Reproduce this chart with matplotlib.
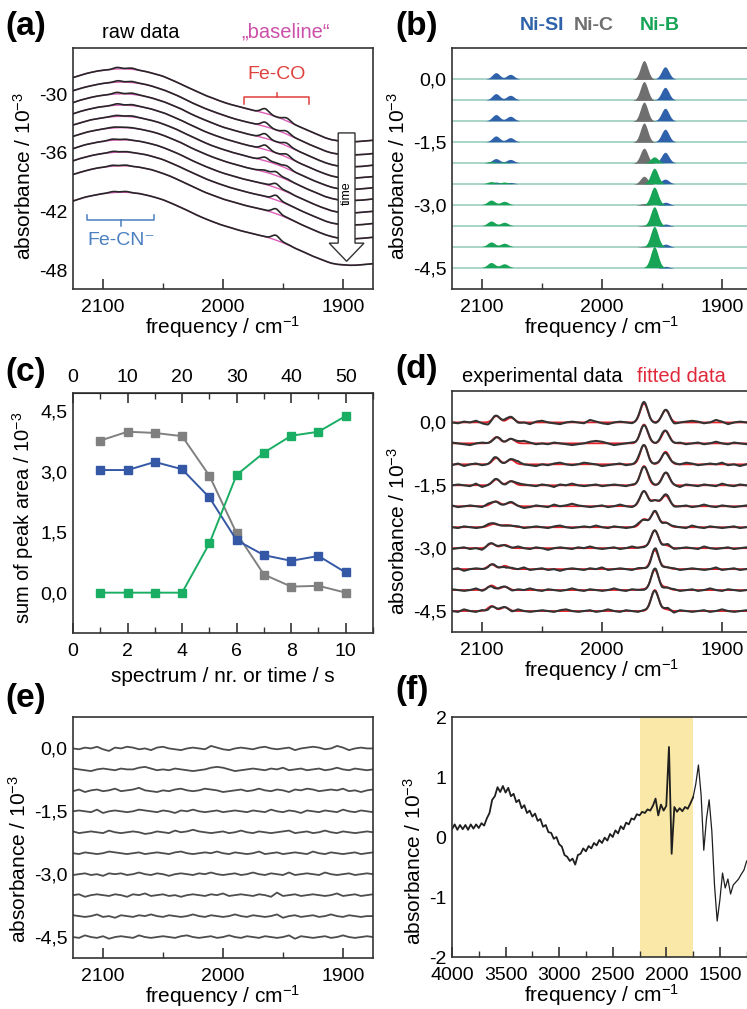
import numpy as np
import matplotlib
matplotlib.use("Agg")
import matplotlib.pyplot as plt
from matplotlib.patches import FancyArrow
from matplotlib.ticker import FuncFormatter, MultipleLocator

plt.rcParams["font.family"] = ["Liberation Sans", "DejaVu Sans"]
plt.rcParams["mathtext.fontset"] = "custom"
plt.rcParams["mathtext.rm"] = "Liberation Sans"
plt.rcParams["mathtext.it"] = "Liberation Sans:italic"
plt.rcParams["mathtext.bf"] = "Liberation Sans:bold"
plt.rcParams["axes.unicode_minus"] = False

# ---------------- data ----------------
# band centres / widths, cm-1
si_centers = [2088, 2076, 1947]
c_centers = [1965]
b_centers = [2092, 2081, 1956]
band_sigma = 3.1

# band heights per spectrum (10 spectra, 10^-3)
si_2088 = [0.15, 0.15, 0.15, 0.14, 0.10, 0.04, 0.0, 0.0, 0.0, 0.0]
si_2076 = [0.11, 0.11, 0.11, 0.10, 0.08, 0.03, 0.0, 0.0, 0.0, 0.0]
si_1947 = [0.29, 0.30, 0.30, 0.30, 0.25, 0.11, 0.07, 0.05, 0.07, 0.04]
c_1965 = [0.45, 0.45, 0.46, 0.46, 0.36, 0.19, 0.04, 0.02, 0.02, 0.0]
b_2092 = [0.0, 0.0, 0.0, 0.0, 0.03, 0.05, 0.11, 0.11, 0.11, 0.12]
b_2081 = [0.0, 0.0, 0.0, 0.0, 0.02, 0.04, 0.08, 0.08, 0.08, 0.09]
b_1956 = [0.0, 0.0, 0.0, 0.0, 0.14, 0.37, 0.42, 0.45, 0.48, 0.50]

stack_offsets = [0.0, -0.5, -1.0, -1.5, -2.0, -2.5, -3.0, -3.5, -4.0, -4.5]

# (a) raw data: baseline of first spectrum, 2125 -> 1875 every 5 cm-1
baseline_a = [-28.32, -28.12, -27.94, -27.79, -27.67, -27.57,
              -27.50, -27.45, -27.43, -27.44, -27.49, -27.57, -27.68, -27.82, -28.00, -28.20,
              -28.44, -28.70, -28.98, -29.28, -29.57, -29.85, -30.12, -30.37, -30.60, -30.81,
              -31.00, -31.18, -31.35, -31.51, -31.66, -31.80, -31.96, -32.14, -32.35, -32.58,
              -32.85, -33.12, -33.40, -33.68, -33.95, -34.20, -34.45, -34.65, -34.78, -34.85,
              -34.88, -34.87, -34.83, -34.78, -34.72]
raw_offsets = [0.0, -1.35, -2.55, -3.7, -4.85, -6.0, -7.25, -8.5, -9.9, -12.6]

# residuals (experimental - fit), 2125 -> 1875 every 5 cm-1, in units of 0.01e-3
residuals = [
    [0, -1, 1, 0, 2, -1, -3, 1, 0, 2, 1, -1, 0, -2, 1, 2, 0, -1, -2, 0, 1, 0, -1, 3, 1, -1, -2, 0, 1, 0,
     -1, 1, 2, 0, -1, 0, 1, -2, 0, 1, 2, 1, -1, 0, 3, 1, -2, 0, 1, 0, 0],
    [1, 0, -1, -2, 0, 1, 0, -1, 1, 0, 0, 2, 3, 1, -1, 0, -1, 1, 0, -1, -2, -1, 0, 2, 3, 2, 0, -2, -1, 0,
     1, 0, -1, 1, 0, 2, -1, 0, 1, -1, 0, 1, -1, 0, 2, 0, -1, 1, 0, -1, 0],
    [-1, 1, -2, 0, 1, -1, 0, 2, -1, 0, 1, 3, 0, -1, -2, 0, -1, 1, 2, 0, -1, 0, 2, 1, 0, -2, -1, 0, 1, -1,
     0, 2, 0, -1, 1, 0, -2, 1, 0, 2, 1, -1, 0, 1, 0, 2, -1, 0, -2, 0, 1],
    [0, 1, 0, -1, 2, -2, 0, 1, 0, -1, 0, 2, 1, 0, -1, 1, 0, -2, 1, 0, 2, 0, -1, 0, 1, -1, 0, 1, 0, -1,
     1, 0, -1, 2, 0, -1, 1, 0, -2, 1, 0, -1, 1, 0, -1, 2, 0, -1, 1, 0, -1],
    [1, -1, 0, 1, 0, -1, 2, 0, -1, 0, 1, 0, -2, -1, 1, 0, -1, 2, 0, 1, 3, 1, 0, -1, 0, 1, -1, 0, 2, 0,
     -1, 1, 0, -1, 0, 1, 2, -1, 0, 1, -1, 0, 2, 0, -1, 1, 0, -1, 0, 1, 0],
    [0, -1, 1, 0, -1, 0, 2, 1, 0, -1, 0, 1, -1, 0, 1, 0, -1, 1, 2, 0, -1, 0, 1, 0, 2, 0, -1, 1, 0, -1,
     0, 2, -1, 0, 1, -1, 0, 1, 0, -1, 2, 0, -1, 1, 0, -1, 0, 1, -1, 0, 1],
    [-1, 0, 1, -1, 0, -2, 1, 0, 1, -1, 0, 2, 0, -1, 1, 0, -2, 0, 1, 0, -1, 1, 0, 2, 0, -1, 0, 1, -1, 0,
     2, 0, -1, 1, 0, -1, 2, -1, 0, 1, 0, -1, 2, 0, -1, 0, 1, -1, 0, 1, 0],
    [0, 1, -2, 0, 1, 0, -1, 1, 0, -2, 1, 0, 2, -1, 0, 1, -1, 0, -2, 0, 1, 0, -1, 1, 0, 2, -1, 0, 1, 0,
     -1, 1, 0, -2, 3, -1, 0, 1, -1, 0, 1, 0, -1, 0, 2, -1, 0, 1, -1, 0, 1],
    [1, 0, -1, 0, 2, -1, 0, -2, 1, 0, -1, 1, 0, 2, 0, -1, 1, 0, -1, 0, 2, 0, -1, 1, 0, -1, 0, 2, 0, -1,
     1, 0, -1, 0, 2, -2, 0, 1, -1, 0, 1, -1, 0, 2, 0, -1, 1, 0, -1, 0, 0],
    [0, -1, 2, 0, -1, 1, -2, 0, 1, 0, -1, 2, 0, -1, 0, 1, 0, -1, 1, 2, 0, -1, 0, 1, -1, 0, 2, 0, -1, 1,
     0, -1, 1, 0, -1, 0, 2, -2, 1, 0, -1, 0, 1, -1, 0, 2, 0, -1, 0, 1, 0],
]

# (c) sum of peak areas per spectrum
spectrum_nr = [1, 2, 3, 4, 5, 6, 7, 8, 9, 10]
area_ni_c = [3.77, 3.99, 3.96, 3.88, 2.90, 1.47, 0.45, 0.15, 0.17, 0.0]
area_ni_si = [3.04, 3.04, 3.24, 3.06, 2.36, 1.30, 0.93, 0.79, 0.91, 0.50]
area_ni_b = [0.0, 0.0, 0.0, 0.0, 1.22, 2.92, 3.47, 3.89, 3.99, 4.38]

# (f) full range difference spectrum, 4000 -> 1250 every 25 cm-1
spectrum_f = [0.13, 0.21, 0.12, 0.20, 0.13, 0.20, 0.12, 0.21, 0.14, 0.21,   # 4000-3775
              0.15, 0.23, 0.19, 0.31, 0.40, 0.62, 0.68, 0.83, 0.75, 0.85,   # 3750-3525
              0.74, 0.82, 0.68, 0.72, 0.58, 0.62, 0.48, 0.53, 0.40, 0.44,   # 3500-3275
              0.34, 0.39, 0.27, 0.30, 0.17, 0.20, 0.08, 0.07, -0.03, 0.00,  # 3250-3025
              -0.12, -0.16, -0.30, -0.33, -0.40, -0.36, -0.46, -0.30, -0.28, -0.19,  # 3000-2775
              -0.24, -0.15, -0.19, -0.10, -0.14, -0.05, -0.10, -0.01, -0.06, 0.05,   # 2750-2525
              0.00, 0.11, 0.06, 0.18, 0.13, 0.24, 0.21, 0.31, 0.29, 0.38,   # 2500-2275
              0.36, 0.42, 0.40, 0.46, 0.44, 0.52, 0.64, 0.36, 0.54, 0.44,   # 2250-2025
              0.52, 1.50, -0.28, 0.50, 0.42, 0.48, 0.43, 0.50, 0.47, 0.56,  # 2000-1775
              0.66, 0.88, 1.20, 0.70, -0.22, 0.30, 0.62, 0.10, -0.80, -1.40,  # 1750-1525
              -1.05, -0.60, -0.85, -0.70, -0.95, -0.80, -0.75, -0.70, -0.62, -0.55,  # 1500-1275
              -0.40]                                                        # 1250
noisy_limit_f = 1750
window_f = [2250, 1750]

# ---------------- helpers ----------------
W, H = 747, 1009
fig = plt.figure(figsize=(W / 100, H / 100), dpi=100)
LABEL = 15


def px_axes(left, top, right, bottom):
    return fig.add_axes([left / W, 1 - bottom / H, (right - left) / W, (bottom - top) / H])


def px_text(x, y, s, **kw):
    fig.text(x / W, 1 - y / H, s, **kw)


def bands(x, centers, heights):
    out = np.zeros_like(x)
    for c, h in zip(centers, heights):
        out += h * np.exp(-0.5 * ((x - c) / band_sigma) ** 2)
    return out


def comma(fmt):
    return FuncFormatter(lambda v, p: fmt.format(v).replace(".", ","))


def style(ax):
    for s in ax.spines.values():
        s.set_linewidth(1.2)
        s.set_color("#333333")
    ax.tick_params(axis="x", which="both", direction="in", labelsize=14, pad=7, color="#333333")
    ax.tick_params(axis="x", which="major", length=7, width=1.2)
    ax.tick_params(axis="x", which="minor", length=4, width=1.0)
    ax.tick_params(axis="y", which="both", length=0, labelsize=14, pad=4)


def freq_axis(ax):
    ax.set_xlim(2125, 1875)
    ax.xaxis.set_major_locator(MultipleLocator(100))
    ax.xaxis.set_minor_locator(MultipleLocator(50))
    ax.set_xlabel("frequency / cm$^{-1}$", fontsize=LABEL, labelpad=-1)


def stack_axis(ax, size=LABEL):
    ax.set_ylim(-5.0, 0.75)
    ax.set_yticks([0.0, -1.5, -3.0, -4.5])
    ax.yaxis.set_major_formatter(comma("{:.1f}"))
    ax.set_ylabel("absorbance / 10$^{-3}$", fontsize=size, labelpad=3)


x_fine = np.arange(2125, 1874.9, -0.25)
x_grid = np.linspace(2125, 1875, len(baseline_a))


def on_fine(values):
    return np.interp(x_fine[::-1], x_grid[::-1], np.asarray(values, dtype=float)[::-1])[::-1]


def component(i):
    si = bands(x_fine, si_centers, [si_2088[i], si_2076[i], si_1947[i]])
    c = bands(x_fine, c_centers, [c_1965[i]])
    b = bands(x_fine, b_centers, [b_2092[i], b_2081[i], b_1956[i]])
    return si, c, b


col_si, col_c, col_b = "#2f62aa", "#6f6f6f", "#17a457"

# ---------------- (a) ----------------
ax = px_axes(73, 48, 373, 289)
style(ax)
for i, off in enumerate(raw_offsets):
    si, c, b = component(i)
    base = np.array(baseline_a) + off
    res = on_fine(np.array(residuals[i]) * 0.01)
    ax.plot(x_grid, base, color="#dc5cb8", lw=1.0, zorder=2)
    ax.plot(x_fine, on_fine(base) + si + c + b + res, color="#262626", lw=1.2, zorder=3)
ax.set_ylim(-49.9, -25.3)
ax.set_yticks([-30, -36, -42, -48])
freq_axis(ax)
ax.set_ylabel("absorbance / 10$^{-3}$", fontsize=LABEL, labelpad=3)
ax.yaxis.label.set_y(0.47)
ax.add_patch(FancyArrow(1897, -33.97, 0, -13.1, width=14, head_width=29, head_length=1.85,
                        length_includes_head=True, fc="white", ec="#333333", lw=1.0, zorder=6))
ax.text(1897, -40.1, "time", rotation=90, ha="center", va="center", fontsize=9, zorder=7)
# Fe-CO bracket
red = "#e0403c"
ax.plot([1982.5, 1982.5, 1928, 1928], [-31.0, -30.3, -30.3, -31.0], color=red, lw=1.1)
ax.plot([1955, 1955], [-30.3, -29.9], color=red, lw=1.1)
ax.text(1955, -28.0, "Fe-CO", color=red, ha="center", va="center", fontsize=14)
# Fe-CN bracket
blue = "#4a7fc0"
ax.plot([2113, 2113, 2057.5, 2057.5], [-42.3, -42.86, -42.86, -42.3], color=blue, lw=1.1)
ax.plot([2085, 2085], [-42.86, -43.45], color=blue, lw=1.1)
ax.text(2085, -44.9, "Fe-CN⁻", color=blue, ha="center", va="center", fontsize=14)

px_text(5, 27, "(a)", fontsize=24, fontweight="bold", va="center")
px_text(141, 32, "raw data", fontsize=14.5, ha="center", va="center")
px_text(286, 32, "„baseline“", fontsize=14.5, ha="center", va="center", color="#cc4fa8")

# ---------------- (b) ----------------
ax = px_axes(452, 48, 752, 289)
style(ax)
for i, off in enumerate(stack_offsets):
    ax.axhline(off, color="#93c9bb", lw=1.1, zorder=1)
    si, c, b = component(i)
    for comp, colr in ((si, col_si), (c, col_c), (b, col_b)):
        ax.fill_between(x_fine, off, off + comp, where=comp > 0.004, color=colr, lw=0, zorder=2)
freq_axis(ax)
stack_axis(ax)
ax.yaxis.label.set_y(0.47)
px_text(395, 26, "(b)", fontsize=24, fontweight="bold", va="center")
px_text(542, 26, "Ni-SI", fontsize=14, fontweight="bold", ha="center", va="center", color=col_si)
px_text(594, 26, "Ni-C", fontsize=14, fontweight="bold", ha="center", va="center", color=col_c)
px_text(660, 26, "Ni-B", fontsize=14, fontweight="bold", ha="center", va="center", color=col_b)

# ---------------- (c) ----------------
ax = px_axes(73, 393, 373, 633)
style(ax)
ax.plot(spectrum_nr, area_ni_c, "-s", color="#808080", lw=1.4, ms=6)
ax.plot(spectrum_nr, area_ni_si, "-s", color="#3558a6", lw=1.4, ms=6)
ax.plot(spectrum_nr, area_ni_b, "-s", color="#1aae64", lw=1.4, ms=6)
ax.set_xlim(0, 11)
ax.set_ylim(-1.0, 4.95)
ax.xaxis.set_major_locator(MultipleLocator(2))
ax.xaxis.set_minor_locator(MultipleLocator(1))
ax.set_yticks([0.0, 1.5, 3.0, 4.5])
ax.yaxis.set_major_formatter(comma("{:.1f}"))
ax.set_ylabel("sum of peak area / 10$^{-3}$", fontsize=14.5, labelpad=3)
ax.yaxis.label.set_y(0.48)
ax.set_xlabel("spectrum / nr. or time / s", fontsize=LABEL, labelpad=5)
top = ax.secondary_xaxis("top", functions=(lambda v: v * 5, lambda v: v / 5))
top.xaxis.set_major_locator(MultipleLocator(10))
top.xaxis.set_minor_locator(MultipleLocator(5))
top.tick_params(which="both", direction="in", labelsize=14, pad=5, color="#333333")
top.tick_params(which="major", length=7, width=1.2)
top.tick_params(which="minor", length=4, width=1.0)
px_text(5, 373, "(c)", fontsize=24, fontweight="bold", va="center")

# ---------------- (d) ----------------
ax = px_axes(452, 391, 752, 632)
style(ax)
for i, off in enumerate(stack_offsets):
    si, c, b = component(i)
    fit = off + si + c + b
    res = on_fine(np.array(residuals[i]) * 0.02)
    ax.plot(x_fine, fit, color="#e8202a", lw=1.3, zorder=2)
    ax.plot(x_fine, fit + res, color="#333333", lw=1.5, zorder=3)
freq_axis(ax)
stack_axis(ax)
ax.yaxis.label.set_y(0.42)
px_text(395, 370, "(d)", fontsize=24, fontweight="bold", va="center")
px_text(542, 376, "experimental data", fontsize=14.5, ha="center", va="center")
px_text(681, 376, "fitted data", fontsize=14.5, ha="center", va="center", color="#e0283a")

# ---------------- (e) ----------------
ax = px_axes(73, 717, 373, 958)
style(ax)
for i, off in enumerate(stack_offsets):
    ax.plot(x_grid, off + np.array(residuals[i]) * 0.02, color="#4d4d4d", lw=1.3)
freq_axis(ax)
stack_axis(ax)
ax.yaxis.label.set_y(0.41)
px_text(5, 699, "(e)", fontsize=24, fontweight="bold", va="center")

# ---------------- (f) ----------------
ax = px_axes(452, 717, 752, 957)
style(ax)
freq_f = np.linspace(4000, 4000 - 25 * (len(spectrum_f) - 1), len(spectrum_f))
spec_f = np.array(spectrum_f)
noisy = freq_f >= noisy_limit_f
ax.axvspan(window_f[0], window_f[1], color="#f9e8a8", lw=0, zorder=0)
ax.plot(freq_f[noisy], spec_f[noisy], color="#1e1e1e", lw=1.3, zorder=2)
ax.plot(freq_f[~noisy | (freq_f == noisy_limit_f)], spec_f[~noisy | (freq_f == noisy_limit_f)],
        color="#1e1e1e", lw=0.9, zorder=2)
ax.set_xlim(4000, 1200)
ax.set_ylim(-2, 2)
ax.xaxis.set_major_locator(MultipleLocator(500))
ax.xaxis.set_minor_locator(MultipleLocator(250))
ax.set_yticks([-2, -1, 0, 1, 2])
ax.set_xlabel("frequency / cm$^{-1}$", fontsize=LABEL, labelpad=-1)
ax.set_ylabel("absorbance / 10$^{-3}$", fontsize=LABEL, labelpad=3)
ax.yaxis.label.set_y(0.40)
px_text(395, 690, "(f)", fontsize=24, fontweight="bold", va="center")

fig.savefig("out.png", dpi=100)
